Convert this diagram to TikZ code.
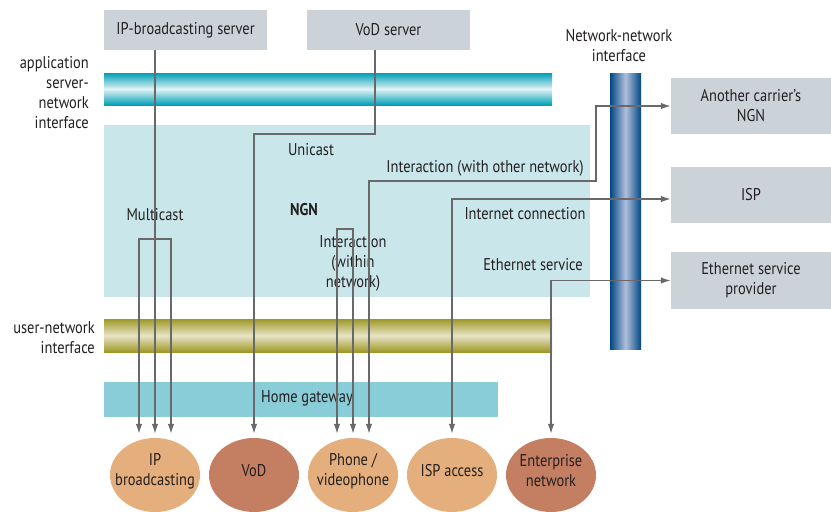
\documentclass[tikz,border=0pt]{standalone}
\usepackage{fontspec}
\setmainfont{PT Sans}[FakeStretch=0.85]
\usetikzlibrary{arrows.meta,shapes.geometric}
\definecolor{boxgray}{RGB}{203,211,217}
\definecolor{ngnbg}{RGB}{201,230,235}
\definecolor{hgw}{RGB}{136,205,215}
\definecolor{teal}{RGB}{0,160,182}
\definecolor{teallight}{RGB}{225,242,244}
\definecolor{olive}{RGB}{158,152,38}
\definecolor{olivelight}{RGB}{232,228,198}
\definecolor{navy}{RGB}{0,72,132}
\definecolor{navylight}{RGB}{178,190,220}
\definecolor{orangeL}{RGB}{228,175,124}
\definecolor{orangeD}{RGB}{196,126,98}
\definecolor{linegray}{RGB}{105,105,108}
\definecolor{txt}{RGB}{35,31,32}
\tikzset{
  graybox/.style={fill=boxgray, inner sep=0pt, align=center, text=txt},
  endpoint/.style={ellipse, minimum width=90pt, minimum height=74pt, inner sep=0pt},
  conn/.style={draw=linegray, line width=1.3pt, -{Latex[length=10pt,width=6.5pt]}},
  conntwo/.style={draw=linegray, line width=1.3pt, {Latex[length=10pt,width=6.5pt]}-{Latex[length=10pt,width=6.5pt]}},
  lbl/.style={text=txt, inner sep=0pt, align=center}
}
\begin{document}
\begin{tikzpicture}[x=1pt,y=-1pt, font=\fontsize{17}{20}\selectfont]
\path[use as bounding box] (0,0) rectangle (831,512);
% areas
\node[fill=ngnbg, minimum width=486pt, minimum height=172pt, inner sep=0pt] (ngn) at (347,211) {};
\node[top color=teal, bottom color=teal, middle color=teallight, minimum width=448pt, minimum height=32pt, inner sep=0pt] (asni) at (328,89) {};
\node[top color=olive, bottom color=olive, middle color=olivelight, minimum width=448pt, minimum height=33pt, inner sep=0pt] (uni) at (328,335.5) {};
\node[fill=hgw, minimum width=394pt, minimum height=35pt, inner sep=0pt] (homegw) at (301,399.5) {};
\node[left color=navy, right color=navy, middle color=navylight, minimum width=31pt, minimum height=276pt, inner sep=0pt] (nni) at (625.5,211) {};
% boxes
\node[graybox, minimum width=163pt, minimum height=40pt] (ipserver) at (185.5,30) {IP-broadcasting server};
\node[graybox, minimum width=163pt, minimum height=40pt] (vodserver) at (388.5,30) {VoD server};
\node[graybox, minimum width=160pt, minimum height=56pt] (carrier) at (751,106) {Another carrier’s\\NGN};
\node[graybox, minimum width=160pt, minimum height=56pt] (isp) at (751,195) {ISP};
\node[graybox, minimum width=160pt, minimum height=57pt] (esp) at (751,280.5) {Ethernet service\\provider};
% endpoints
\node[endpoint, fill=orangeL] (ipbc) at (155,475) {};
\node[endpoint, fill=orangeD] (vod) at (254,475) {};
\node[endpoint, fill=orangeL] (phone) at (353,475) {};
\node[endpoint, fill=orangeL] (ispacc) at (452,475) {};
\node[endpoint, fill=orangeD] (ent) at (551,475) {};
\node[lbl] (ipbctxt) at ([yshift=4pt]ipbc.center) {IP\\broadcasting};
\node[lbl] (vodtxt) at ([yshift=4pt]vod.center) {VoD};
\node[lbl] (phonetxt) at ([yshift=4pt]phone.center) {Phone /\\videophone};
\node[lbl] (ispacctxt) at ([yshift=4pt]ispacc.center) {ISP access};
\node[lbl] (enttxt) at ([yshift=4pt]ent.center) {Enterprise\\network};
% labels
\node[lbl, anchor=east, align=right] (asnilbl) at (89,93) {application\\server-\\network\\interface};
\node[lbl, anchor=east, align=right] (unilbl) at (95,338) {user-network\\interface};
\node[lbl] (nnilbl) at (619,46) {Network-network\\interface};
\node[lbl] (unicast) at (311,150) {Unicast};
\node[lbl] (multicast) at (155,215) {Multicast};
\node[lbl, font=\fontsize{17}{20}\selectfont\bfseries] (ngnlbl) at (304,210) {NGN};
\node[lbl] (intwithin) at (353,263) {Interaction\\(within\\network)};
\node[lbl] (intother) at (485,168) {Interaction (with other network)};
\node[lbl] (inet) at (525,214) {Internet connection};
\node[lbl] (eth) at (533,265) {Ethernet service};
\node[lbl] (hgwlbl) at (307,398) {Home gateway};
% bend coordinates
\coordinate (mcl) at (139,239);
\coordinate (mcr) at (171,239);
\coordinate (vb) at (254,134);
\coordinate (pl) at (337,229);
\coordinate (pr) at (353,229);
\coordinate (oc) at (596,181);
% connectors
\draw[conn] (ipserver.south -| ipbc.north) -- ([yshift=4pt]ipbc.north);
\draw[conntwo] ([xshift=-16pt,yshift=4pt]ipbc.north) -- (mcl) -- (mcr) -- ([xshift=16pt,yshift=4pt]ipbc.north);
\draw[conn] ([xshift=-13.5pt]vodserver.south) |- (vb) -- ([yshift=4pt]vod.north);
\draw[conntwo] ([xshift=-16pt,yshift=4pt]phone.north) -- (pl) -- (pr) -- ([yshift=4pt]phone.north);
\draw[conntwo] ([xshift=16pt,yshift=4pt]phone.north) |- (oc) |- (carrier.west);
\draw[conntwo] ([yshift=4pt]ispacc.north) |- ([yshift=-4pt]isp.west);
\draw[conntwo] ([yshift=4pt]ent.north) |- (esp.west);
\end{tikzpicture}
\end{document}
